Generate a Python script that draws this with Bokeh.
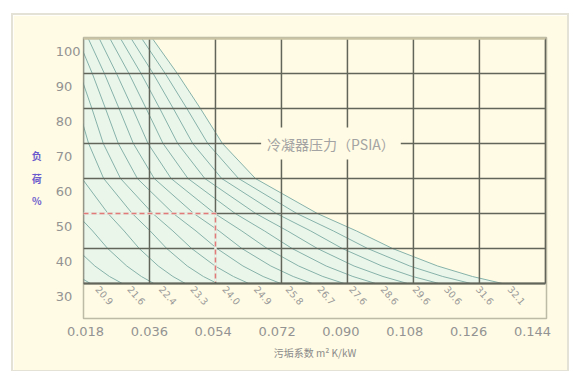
from bokeh.plotting import figure
from bokeh.models import Range1d, LinearAxis, FixedTicker, Label, NumeralTickFormatter
from bokeh.core.properties import value
from bokeh.embed import file_html
from bokeh.resources import INLINE

# ---------------- data ----------------
x_ticks = [0.018, 0.036, 0.054, 0.072, 0.090, 0.108, 0.126, 0.144]
y_ticks = [30, 40, 50, 60, 70, 80, 90, 100]

# load (%) levels at which each pressure curve was read
load_levels = [100, 90, 80, 70, 60, 50, 45, 40, 35, 32, 30]

# fouling factor (m2 K/kW) of each condenser-pressure curve at the load levels above
curve_00 = [-0.0183, -0.0155, -0.0130, -0.0106, -0.0070, -0.0003, 0.0040, 0.0079, 0.0128, 0.0166, 0.0199]
curve_01 = [-0.0115, -0.0087, -0.0060, -0.0035, 0.0003, 0.0074, 0.0118, 0.0160, 0.0211, 0.0251, 0.0286]
curve_02 = [-0.0029, 0.0000, 0.0026, 0.0051, 0.0089, 0.0160, 0.0205, 0.0246, 0.0298, 0.0338, 0.0372]
curve_03 = [0.0058, 0.0086, 0.0113, 0.0138, 0.0176, 0.0247, 0.0291, 0.0332, 0.0384, 0.0424, 0.0458]
curve_04 = [0.0106, 0.0137, 0.0166, 0.0194, 0.0235, 0.0313, 0.0362, 0.0407, 0.0463, 0.0507, 0.0545]
curve_05 = [0.0135, 0.0170, 0.0203, 0.0234, 0.0281, 0.0369, 0.0424, 0.0475, 0.0539, 0.0589, 0.0631]
curve_06 = [0.0164, 0.0204, 0.0240, 0.0275, 0.0327, 0.0425, 0.0487, 0.0544, 0.0615, 0.0670, 0.0718]
curve_07 = [0.0193, 0.0237, 0.0277, 0.0316, 0.0373, 0.0481, 0.0550, 0.0612, 0.0691, 0.0752, 0.0804]
curve_08 = [0.0223, 0.0270, 0.0314, 0.0356, 0.0419, 0.0538, 0.0612, 0.0681, 0.0767, 0.0833, 0.0891]
curve_09 = [0.0252, 0.0304, 0.0351, 0.0397, 0.0465, 0.0594, 0.0674, 0.0749, 0.0842, 0.0915, 0.0977]
curve_10 = [0.0281, 0.0337, 0.0388, 0.0437, 0.0511, 0.0650, 0.0737, 0.0818, 0.0918, 0.0997, 0.1064]
curve_11 = [0.0310, 0.0370, 0.0425, 0.0478, 0.0557, 0.0706, 0.0800, 0.0886, 0.0994, 0.1078, 0.1150]
curve_12 = [0.0339, 0.0403, 0.0462, 0.0519, 0.0603, 0.0762, 0.0862, 0.0955, 0.1070, 0.1160, 0.1237]
curve_13 = [0.0368, 0.0436, 0.0499, 0.0559, 0.0649, 0.0818, 0.0925, 0.1023, 0.1146, 0.1241, 0.1323]

pressure_labels = ["20.9", "21.6", "22.4", "23.3", "24.0", "24.9", "25.8",
                   "26.7", "27.6", "28.6", "29.6", "30.6", "31.6", "32.1"]

marker_fouling = 0.054
marker_load = 50

curves = [curve_00, curve_01, curve_02, curve_03, curve_04, curve_05, curve_06,
          curve_07, curve_08, curve_09, curve_10, curve_11, curve_12, curve_13]

# ---------------- styles ----------------
CREAM = "#FFFBE4"
FILL = "#EBF6EA"
CURVE = "#86B2AA"
GRID = "#62655A"
TOPLINE = "#C9C3A4"
TICK_TXT = "#939393"
CJK = "Noto Sans CJK SC"

p = figure(width=554, height=355,
           x_range=Range1d(0.018, 0.1443), y_range=Range1d(20, 100.3),
           output_backend="svg", toolbar_location=None,
           x_axis_location=None, y_axis_location=None,
           min_border_left=70, min_border_right=21, min_border_top=22, min_border_bottom=52,
           background_fill_color=CREAM, border_fill_color=CREAM,
           outline_line_color="#BDBAA6", outline_line_width=1.5,
           margin=(15, 0, 0, 13),
           styles={"outline": "2px solid #E4E2D6"})
p.grid.visible = False

# label ranges (tick labels of the original sit offset from the grid lines)
p.extra_x_ranges = {"xlab": Range1d(0.017436, 0.147946)}
p.extra_y_ranges = {"ylab": Range1d(23.714, 104.014)}

xax = LinearAxis(x_range_name="xlab", ticker=FixedTicker(ticks=x_ticks),
                 formatter=NumeralTickFormatter(format="0.000"),
                 axis_line_color=None, major_tick_out=0, major_tick_in=0,
                 minor_tick_out=0, minor_tick_in=0,
                 major_label_standoff=8,
                 major_label_text_font="DejaVu Sans",
                 major_label_text_font_size="13px",
                 major_label_text_color=TICK_TXT,
                 axis_label="污垢系数 m² K/kW",
                 axis_label_standoff=6,
                 axis_label_text_font=CJK,
                 axis_label_text_font_size="10px",
                 axis_label_text_font_style="normal",
                 axis_label_text_color="#8A8A8A")
p.add_layout(xax, "below")

y_over = {t: (str(t) + "\u2007" if t < 100 else str(t)) for t in y_ticks}
yax = LinearAxis(y_range_name="ylab", ticker=FixedTicker(ticks=y_ticks),
                 major_label_overrides=y_over,
                 axis_line_color=None, major_tick_out=0, major_tick_in=0,
                 minor_tick_out=0, minor_tick_in=0,
                 major_label_standoff=3,
                 major_label_text_font="DejaVu Sans",
                 major_label_text_font_size="13px",
                 major_label_text_color=TICK_TXT,
                 axis_label="负\n荷\n%",
                 axis_label_orientation="horizontal",
                 axis_label_standoff=11,
                 axis_label_text_font=CJK,
                 axis_label_text_font_size="10px",
                 axis_label_text_font_style="bold",
                 axis_label_text_color="#6A5ACD",
                 axis_label_text_line_height=1.5)
p.add_layout(yax, "left")

# filled area left of the outermost curve
fill_x = [x_ticks[0]] + curve_13 + [x_ticks[0]]
fill_y = [y_ticks[-1]] + load_levels + [y_ticks[0]]
p.patch(fill_x, fill_y, fill_color=FILL, line_color=None)

# pressure curves
for c in curves:
    p.line(c, load_levels, line_color=CURVE, line_width=1)

# grid
p.segment(x0=x_ticks, y0=[y_ticks[0]] * len(x_ticks), x1=x_ticks, y1=[y_ticks[-1]] * len(x_ticks),
          line_color=GRID, line_width=1.5)
p.segment(x0=[x_ticks[0]] * (len(y_ticks) - 1), y0=y_ticks[:-1],
          x1=[x_ticks[-1]] * (len(y_ticks) - 1), y1=y_ticks[:-1],
          line_color=GRID, line_width=1.5)
p.segment(x0=[x_ticks[0]], y0=[y_ticks[-1]], x1=[x_ticks[-1]], y1=[y_ticks[-1]],
          line_color=TOPLINE, line_width=2.5)
p.segment(x0=[x_ticks[0]], y0=[y_ticks[0]], x1=[x_ticks[-1]], y1=[y_ticks[0]],
          line_color=GRID, line_width=2)

# red dashed reading line (covers the grid line beneath it)
marker_x = [x_ticks[0], marker_fouling, marker_fouling]
marker_y = [marker_load, marker_load, y_ticks[0] + 0.4]
p.line(marker_x, marker_y, line_color=FILL, line_width=2.5)
p.line(marker_x, marker_y, line_color="#E27A7A", line_width=1.5, line_dash="5 3")

# curve labels below the end of each curve
p.text(x=[c[-1] for c in curves], y=[load_levels[-1]] * len(curves), text=pressure_labels,
       angle=-0.85, x_offset=14, y_offset=12,
       text_align="center", text_baseline="middle",
       text_font=value("DejaVu Sans"), text_font_size="9.5px", text_color="#999999")

# center caption
p.add_layout(Label(x=0.0855, y=70, text="冷凝器压力（PSIA）",
                   text_align="center", text_baseline="middle",
                   text_font=CJK, text_font_size="14px", text_color="#A3A3A3",
                   background_fill_color=CREAM, padding=6))

open("out.html", "w").write(file_html(p, INLINE))
